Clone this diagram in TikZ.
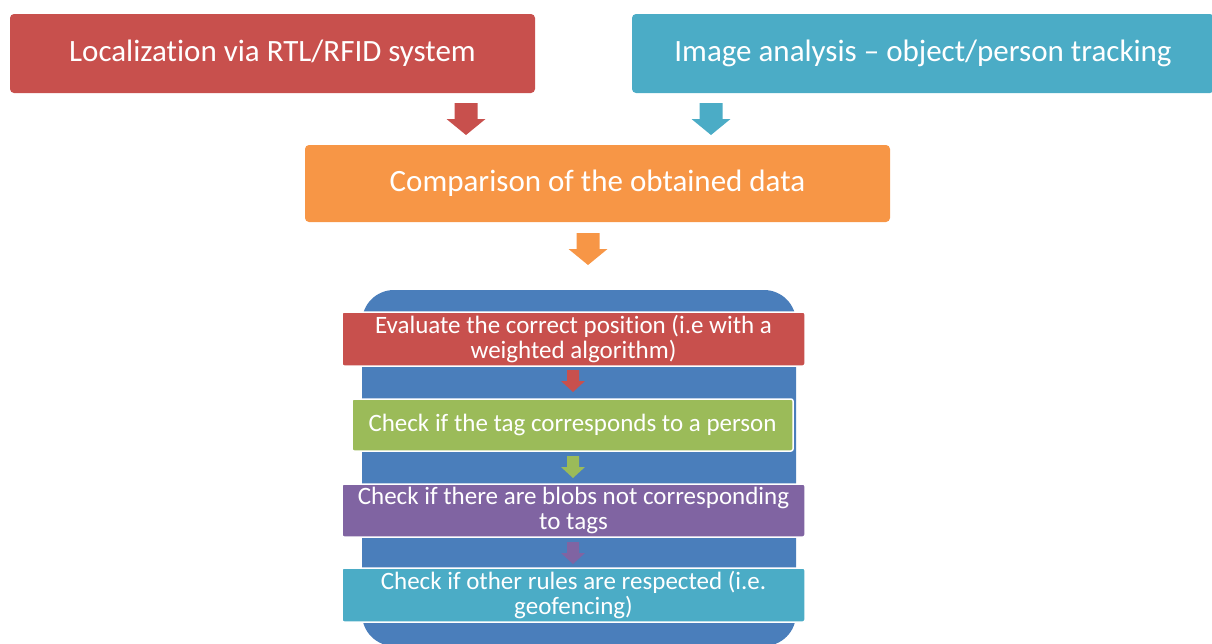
\documentclass[tikz,border=0pt]{standalone}
\usepackage{fontspec}
\setmainfont{Carlito}[Ligatures={NoCommon,NoContextual}]
\definecolor{cred}{HTML}{C8504D}
\definecolor{ccyan}{HTML}{4BACC6}
\definecolor{corange}{HTML}{F79646}
\definecolor{cgreen}{HTML}{9BBB59}
\definecolor{cpurple}{HTML}{8064A2}
\definecolor{cblue}{HTML}{4A7EBB}
% block arrow pointing down: colour, centre x, top y, head start y, bottom y, shaft half width, head half width
\newcommand\downblock[7]{%
  \fill[#1] (#2-#6,#3) -- (#2+#6,#3) -- (#2+#6,#4) -- (#2+#7,#4) -- (#2,#5)
    -- (#2-#7,#4) -- (#2-#6,#4) -- cycle;}
\begin{document}
\begin{tikzpicture}[x=1pt,y=-1pt,
  bigbox/.style={rectangle, rounded corners=4pt, text=white, inner sep=0pt,
    font=\fontsize{31}{34}\selectfont},
  stepbox/.style={rectangle, rounded corners=2pt, text=white, inner sep=0pt,
    draw=white, line width=1.5pt, align=center,
    font=\fontsize{25}{25}\selectfont}]
\useasboundingbox (0,0) rectangle (1212,643);
\clip (0,0) rectangle (1212,643);

% top row
\node[bigbox, fill=cred, minimum width=525pt, minimum height=79pt]
  (rfid) at (272.5,53.5) {Localization via RTL/RFID system};
\node[bigbox, fill=ccyan, minimum width=582pt, minimum height=79pt]
  (image) at (923,53.5) {Image analysis -- object/person tracking};

\downblock{cred}{466}{103}{119}{135}{11.5}{19.5}
\downblock{ccyan}{711}{103}{119}{135}{11.5}{19.5}

% comparison
\node[bigbox, fill=corange, minimum width=585pt, minimum height=77pt]
  (compare) at (597.5,183.5) {Comparison of the obtained data};

\downblock{corange}{588}{233}{249}{265}{11.5}{19.5}

% processing block
\fill[cblue, rounded corners=32pt] (362,290) rectangle (796,646);

\node[stepbox, fill=cred, minimum width=463pt, minimum height=54pt]
  (evaluate) at (573.5,339) {Evaluate the correct position (i.e with a\\weighted algorithm)};
\node[stepbox, fill=cgreen, minimum width=441pt, minimum height=52pt]
  (person) at (572.5,425) {Check if the tag corresponds to a person};
\node[stepbox, fill=cpurple, minimum width=463pt, minimum height=53pt]
  (blobs) at (573.5,510.5) {Check if there are blobs not corresponding\\to tags};
\node[stepbox, fill=ccyan, minimum width=463pt, minimum height=54pt]
  (rules) at (573.5,595) {Check if other rules are respected (i.e.\\geofencing)};

\downblock{cred}{573}{370}{381}{392}{6}{12}
\downblock{cgreen}{573}{456}{467}{478}{6}{12}
\downblock{cpurple}{573}{542}{553}{564}{6}{12}
\end{tikzpicture}
\end{document}
